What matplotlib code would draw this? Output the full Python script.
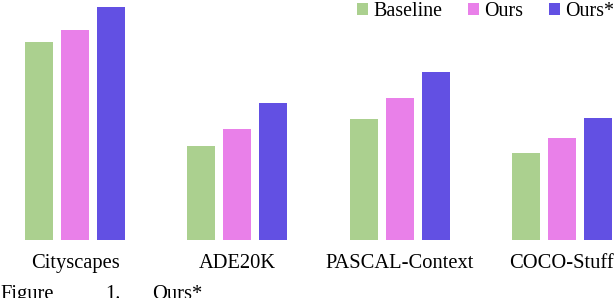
import matplotlib
matplotlib.use("Agg")
import matplotlib.pyplot as plt
import numpy as np
from matplotlib.patches import Patch

plt.rcParams['font.family'] = ['Liberation Serif', 'DejaVu Serif']

datasets = ['Cityscapes', 'ADE20K', 'PASCAL-Context', 'COCO-Stuff']
methods = ['Baseline', 'Ours', 'Ours*']
baseline = [198, 94, 121, 87]
ours = [210, 111, 142, 102]
ours_star = [233, 137, 168, 122]
colors = ['#abd08f', '#e980e9', '#6250e3']

fig = plt.figure(figsize=(6.16, 2.98), dpi=100)
ax = fig.add_axes([0.0, 58 / 298, 1.0, 240 / 298])

x = np.arange(len(datasets))
w = 0.1725
step = 0.2218
for i, (vals, c) in enumerate(zip([baseline, ours, ours_star], colors)):
    ax.bar(x + (i - 1) * step, vals, width=w, color=c, edgecolor='none')

ax.set_xlim(-75 / 162.33, 3 + 54 / 162.33)
ax.set_ylim(0, 240)
ax.set_xticks(x)
ax.set_xticklabels(datasets, fontsize=14.8)
ax.tick_params(axis='x', length=0, pad=10)
ax.set_yticks([])
for s in ax.spines.values():
    s.set_visible(False)

handles = [Patch(facecolor=c, edgecolor='none') for c in colors]
fig.legend(handles, methods, loc='upper right', bbox_to_anchor=(1.0, 1.0),
           ncol=3, frameon=False, fontsize=14.4, handlelength=0.55,
           handleheight=0.55, handletextpad=0.25, columnspacing=1.3,
           borderaxespad=0.0, borderpad=0.1)

# caption of the figure, cut off by the crop
fig.text(0.0, 1 - 285 / 298, 'Figure', fontsize=14.8, va='top', ha='left')
fig.text(105 / 616, 1 - 285 / 298, '1.', fontsize=14.8, va='top', ha='left')
fig.text(152 / 616, 1 - 285 / 298, 'Ours*', fontsize=14.8, va='top', ha='left')

fig.savefig('out.png', dpi=100)
